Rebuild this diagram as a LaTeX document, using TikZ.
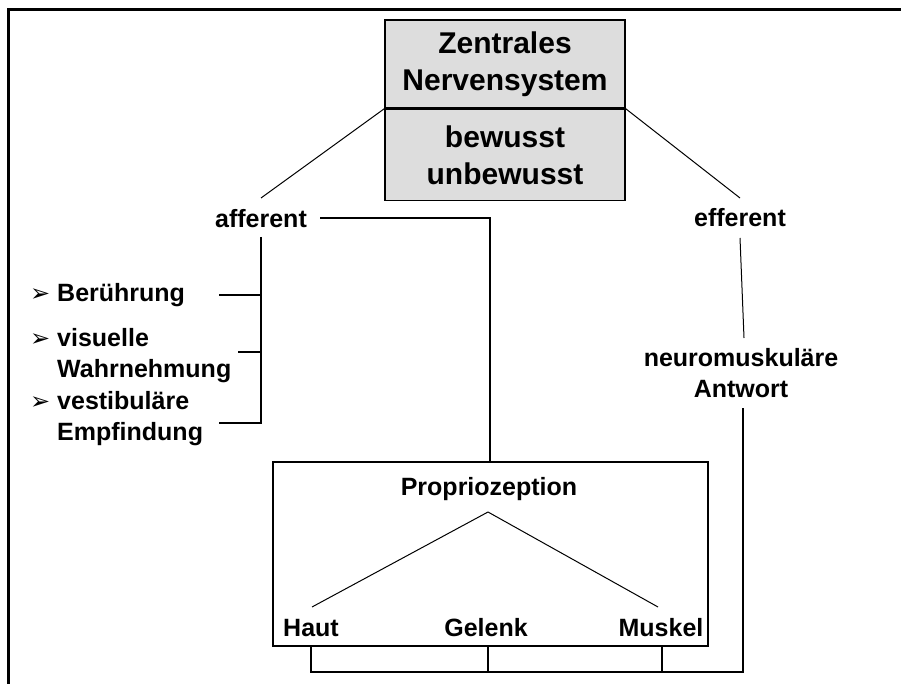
\documentclass[tikz,border=0pt]{standalone}
\usepackage{fontspec}
\setmainfont{Liberation Sans}
\newfontfamily\symfont{DejaVu Sans}
\usetikzlibrary{positioning}

\definecolor{cnsgray}{RGB}{221,221,221}

\newcommand{\pfeil}{\makebox[27pt][l]{\symfont\fontsize{24}{24}\selectfont\raisebox{0pt}{➢}}}
\newcommand{\einzug}{\hspace*{27pt}}

\begin{document}
\begin{tikzpicture}[
  x=1pt,y=-1pt,
  every node/.style={font=\fontsize{25}{31}\selectfont\bfseries,inner sep=0pt,align=center},
  cnsbox/.style={draw,line width=1.5pt,fill=cnsgray,minimum width=240,
                 font=\fontsize{30}{37}\selectfont\bfseries},
  propbox/.style={draw,line width=1.5pt},
  link/.style={line width=1.5pt},
  diag/.style={line width=1pt},
  item/.style={align=left,anchor=west},
]
  % page and frame
  \useasboundingbox (0,0) rectangle (901,684);
  \draw[line width=3pt] (901,10) -- (8,10) -- (8,684);

  % central nervous system
  \node[cnsbox,minimum height=88] (zns) at (505,64) {Zentrales\\Nervensystem};
  \node[cnsbox,minimum height=91,below=0pt of zns] (bew) {bewusst\\unbewusst};

  % afferent / efferent
  \node (aff) at (261,219) {afferent};
  \node (eff) at (740,218) {efferent};
  \node (neuro) at (741,373) {neuromuskuläre\\Antwort};

  % sensory inputs
  \node[item] (ber) at (30,295) {\pfeil Berührung};
  \node[item] (vis) at (30,356) {\pfeil visuelle\\\einzug Wahrnehmung};
  \node[item] (ves) at (30,419) {\pfeil vestibuläre\\\einzug Empfindung};

  % proprioception
  \node[propbox,minimum width=435,minimum height=184] (prop) at (490.5,554) {};
  \node (pz) at (489,489) {Propriozeption};
  \coordinate (apex) at (488,512);
  \node (haut) at (311,628) {Haut};
  \node (gel) at (486,628) {Gelenk};
  \node (mus) at (661,628) {Muskel};

  % connector points
  \coordinate (affT) at (261,198);
  \coordinate (effT) at (740,198);
  \coordinate (affR) at (320,218);
  \coordinate (affK) at (490,218);
  \coordinate (affA) at (261,237);
  \coordinate (affB) at (261,423);
  \coordinate (efA) at (740,238);
  \coordinate (efB) at (744,338);
  \coordinate (ntB) at (743,408);
  \coordinate (bot) at (743,672);

  % connectors
  \draw[diag] (zns.south west) -- (affT);
  \draw[diag] (zns.south east) -- (effT);
  \draw[link] (affR) -- (affK) -- (affK |- prop.north);
  \draw[link] (affA) -- (affB) -- ++(-42,0);
  \draw[link] (affA |- ber) -- ++(-42,0);
  \draw[link] (affA |- 0,352) -- ++(-23,0);
  \draw[diag] (efA) -- (efB);
  \draw[diag] (apex) -- (312,607);
  \draw[diag] (apex) -- (658,607);
  \draw[link] (ntB) -- (bot) -- (bot -| haut) -- (haut |- prop.south);
  \draw[link] (bot -| 488,0) -- (488,646);
  \draw[link] (bot -| 662,0) -- (662,646);
\end{tikzpicture}
\end{document}
